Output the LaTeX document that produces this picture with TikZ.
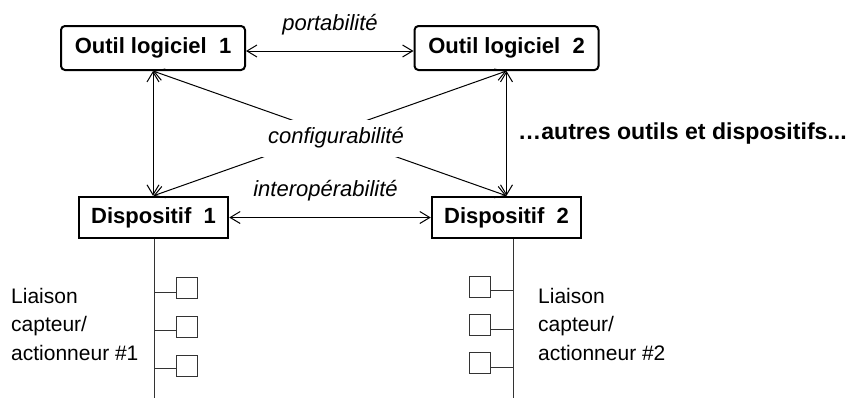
\documentclass[tikz,border=0pt]{standalone}
\usepackage{fontspec}
\setmainfont{Liberation Sans}
\usetikzlibrary{arrows.meta}
\begin{document}
\begin{tikzpicture}[x=1pt,y=-1pt,
  toolbox/.style={draw, line width=2pt, rounded corners=4pt, minimum width=184pt, minimum height=44pt, inner sep=0pt, font=\fontsize{22}{26}\selectfont\bfseries},
  devbox/.style={draw, line width=2.5pt, minimum width=149pt, minimum height=41pt, inner sep=0pt, font=\fontsize{22}{26}\selectfont\bfseries},
  arr/.style={line width=1pt, {Straight Barb[length=10pt,width=12pt]}-{Straight Barb[length=10pt,width=12pt]}},
  lab/.style={inner sep=0pt, font=\fontsize{22}{26}\selectfont\itshape},
  boldlab/.style={inner sep=0pt, font=\fontsize{23.1}{26}\selectfont\bfseries},
  liaison/.style={inner sep=0pt, align=left, font=\fontsize{21}{28.5}\selectfont},
  bus/.style={line width=1pt, draw=black!80},
  sq/.style={draw=black!80, line width=1pt, minimum size=21pt, inner sep=0pt}
]
\useasboundingbox (0,0) rectangle (851,399);

% main boxes
\node[toolbox] (o1) at (153,48) {Outil logiciel~~1};
\node[toolbox] (o2) at (506.5,48) {Outil logiciel~~2};
\node[devbox] (d1) at (153.5,217.5) {Dispositif~~1};
\node[devbox] (d2) at (506.5,217.5) {Dispositif~~2};

% connectors
\draw[arr] ([yshift=-3pt]o1.east) -- ([yshift=-3pt]o2.west);
\draw[arr] (o1.south) -- (o1.south |- d1.north);
\draw[arr] (o2.south) -- (o2.south |- d2.north);
\draw[arr] (o1.south) -- (d2.north);
\draw[arr] (o2.south) -- (d1.north);
\draw[arr] (d1.east) -- (d2.west);

% labels
\node[lab, anchor=base] (port) at (330,30) {portabilité};
\node[lab, fill=white, minimum height=37pt, inner xsep=6pt] (cfg) at (336,138) {configurabilité};
\node[lab, anchor=base] (inter) at (325.5,196) {interopérabilité};
\node[boldlab, anchor=base west] (autres) at (518,139) {…autres outils et dispositifs...};

% bus 1
\coordinate (e1) at (154,398);
\draw[bus] ([xshift=0.5pt]d1.south) -- (e1);
\node[sq] (s11) at (186.5,288) {};
\node[sq] (s12) at (186.5,327) {};
\node[sq] (s13) at (186.5,365.5) {};
\coordinate (t11) at (154,292);
\coordinate (t12) at (154,330);
\coordinate (t13) at (154,368);
\draw[bus] (t11) -- (t11 -| s11.west);
\draw[bus] (t12) -- (t12 -| s12.west);
\draw[bus] (t13) -- (t13 -| s13.west);
\node[liaison, anchor=base west] (l1) at (11,360) {Liaison\\capteur/\\actionneur \#1};

% bus 2
\coordinate (e2) at (513,398);
\draw[bus] ([xshift=6.5pt]d2.south) -- (e2);
\node[sq] (s21) at (479.5,286.5) {};
\node[sq] (s22) at (479.5,325) {};
\node[sq] (s23) at (479.5,363) {};
\coordinate (t21) at (513,290);
\coordinate (t22) at (513,329);
\coordinate (t23) at (513,367);
\draw[bus] (t21) -- (t21 -| s21.east);
\draw[bus] (t22) -- (t22 -| s22.east);
\draw[bus] (t23) -- (t23 -| s23.east);
\node[liaison, anchor=base west] (l2) at (538,360) {Liaison\\capteur/\\actionneur \#2};
\end{tikzpicture}
\end{document}
